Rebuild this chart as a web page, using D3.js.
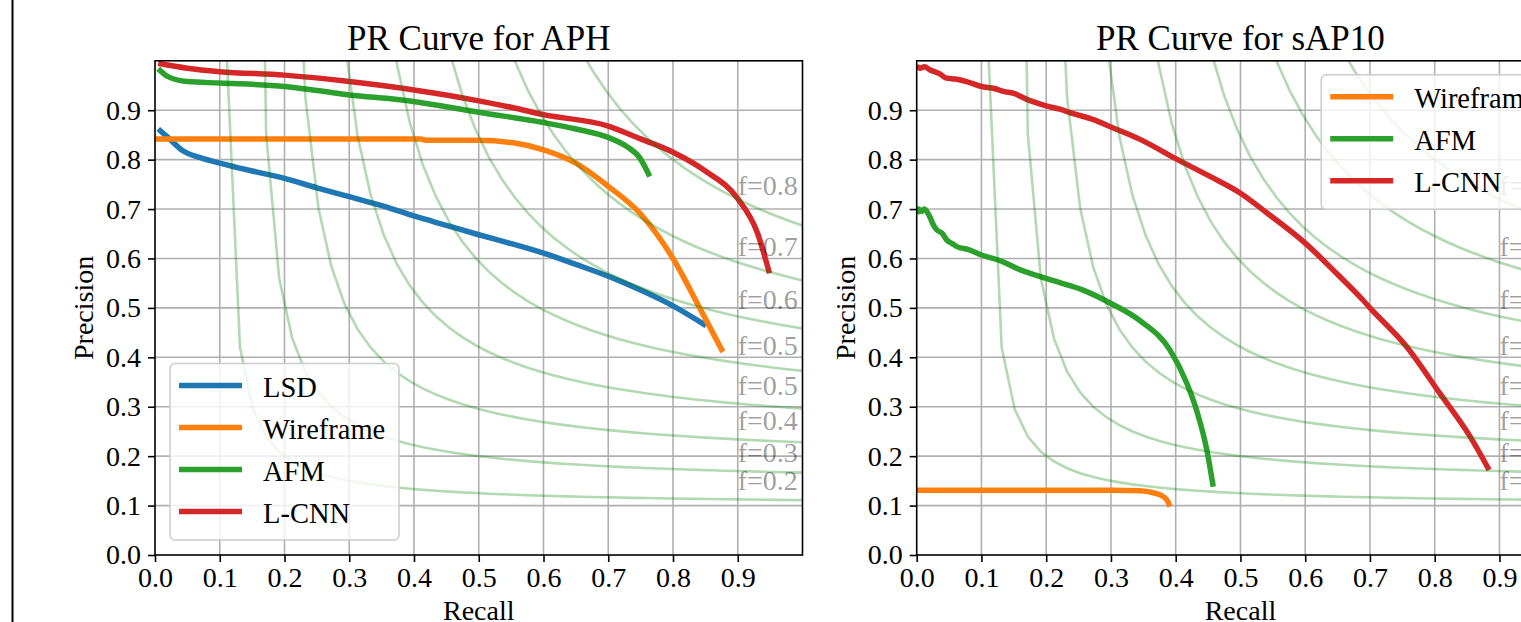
<!DOCTYPE html>
<html>
<head>
<meta charset="utf-8">
<script src="https://cdn.jsdelivr.net/npm/d3@7"></script>
<style>
  body { margin: 0; background: #fff; }
  text { font-family: "Liberation Serif", "DejaVu Serif", serif; }
</style>
</head>
<body>
<svg width="1521" height="622"></svg>
<script>
// ---- data ----
var xTicks = [0, 0.1, 0.2, 0.3, 0.4, 0.5, 0.6, 0.7, 0.8, 0.9];
var yTicks = [0, 0.1, 0.2, 0.3, 0.4, 0.5, 0.6, 0.7, 0.8, 0.9];

// iso-F reference curves
var fScores = [0.2, 0.2857, 0.3714, 0.4571, 0.5429, 0.6286, 0.7143, 0.8];
var fLabels = ["f=0.2", "f=0.3", "f=0.4", "f=0.5", "f=0.5", "f=0.6", "f=0.7", "f=0.8"];

// APH panel
var aphLSD = [[0.005,0.862],[0.02,0.845],[0.043,0.818],[0.07,0.804],[0.1,0.793],[0.15,0.777],[0.2,0.762],
  [0.25,0.743],[0.3,0.725],[0.3475,0.708],[0.4,0.686],[0.45,0.667],[0.5,0.648],[0.55,0.630],[0.6,0.611],
  [0.65,0.588],[0.7,0.564],[0.75,0.536],[0.8,0.504],[0.851,0.464]];
var aphWireframe = [[0.0,0.842],[0.1,0.842],[0.2,0.842],[0.3,0.842],[0.41,0.842],[0.42,0.839],[0.5,0.839],
  [0.553,0.834],[0.6,0.820],[0.65,0.793],[0.7,0.746],[0.75,0.690],[0.8,0.600],[0.842,0.498],[0.877,0.411]];
var aphAFM = [[0.005,0.984],[0.02,0.968],[0.05,0.958],[0.1,0.955],[0.2,0.948],[0.25,0.940],[0.3,0.931],
  [0.378,0.921],[0.45,0.907],[0.5,0.896],[0.6,0.875],[0.65,0.862],[0.7,0.845],[0.728,0.827],[0.749,0.803],[0.764,0.766]];
var aphLCNN = [[0.005,0.995],[0.05,0.985],[0.1,0.978],[0.2,0.971],[0.3,0.958],[0.4,0.941],[0.5,0.919],
  [0.553,0.905],[0.6,0.891],[0.7,0.868],[0.75,0.842],[0.8,0.815],[0.85,0.777],[0.9,0.721],[0.93,0.653],[0.949,0.570]];

// sAP10 panel
var sapWireframe = [[0.0,0.131],[0.1,0.131],[0.2,0.131],[0.3,0.131],[0.345,0.130],[0.365,0.126],
  [0.381,0.118],[0.388,0.108],[0.391,0.098]];
var sapAFM = [[0.0,0.690],[0.003,0.700],[0.008,0.695],[0.012,0.700],[0.02,0.685],[0.025,0.670],[0.031,0.658],
  [0.04,0.650],[0.046,0.638],[0.055,0.630],[0.062,0.624],[0.08,0.618],[0.1,0.607],[0.13,0.595],[0.16,0.577],
  [0.185,0.566],[0.211,0.555],[0.257,0.536],[0.3,0.509],[0.345,0.474],[0.391,0.415],[0.417,0.348],
  [0.432,0.294],[0.448,0.213],[0.458,0.138]];
var sapLCNN = [[0.0,0.990],[0.005,0.985],[0.012,0.988],[0.02,0.982],[0.035,0.974],[0.046,0.965],[0.06,0.963],
  [0.077,0.958],[0.1,0.948],[0.12,0.944],[0.134,0.938],[0.15,0.934],[0.17,0.922],[0.2,0.909],[0.221,0.902],
  [0.242,0.893],[0.273,0.881],[0.3,0.866],[0.345,0.841],[0.4,0.802],[0.453,0.766],[0.5,0.732],[0.541,0.692],
  [0.6,0.631],[0.649,0.569],[0.689,0.516],[0.7,0.500],[0.757,0.421],[0.808,0.327],[0.855,0.239],[0.884,0.172]];

var colors = { "LSD": "#1f77b4", "Wireframe": "#ff7f0e", "AFM": "#2ca02c", "L-CNN": "#d62728" };

var panels = [
  { title: "PR Curve for APH", left: 155, legend: "lower left",
    series: [["LSD", aphLSD], ["Wireframe", aphWireframe], ["AFM", aphAFM], ["L-CNN", aphLCNN]] },
  { title: "PR Curve for sAP10", left: 916.7, legend: "upper right",
    series: [["Wireframe", sapWireframe], ["AFM", sapAFM], ["L-CNN", sapLCNN]] }
];

var plotW = 647.5, plotTop = 60.8, plotBottom = 555;
var svg = d3.select("svg");

// frame line at the far left
svg.append("line").attr("x1", 12.5).attr("x2", 12.5).attr("y1", 0).attr("y2", 622)
  .attr("stroke", "#000").attr("stroke-width", 2);

// recall samples for iso-F curves (50 samples, 0.01..1)
var isoX = d3.range(50).map(function(i) { return 0.01 + i * 0.99 / 49; });

panels.forEach(function(p, pi) {
  var x = d3.scaleLinear().domain([0, 1]).range([p.left, p.left + plotW]);
  var y = d3.scaleLinear().domain([0, 1]).range([plotBottom, plotTop]);
  var g = svg.append("g");

  g.append("clipPath").attr("id", "clip" + pi).append("rect")
    .attr("x", x(0)).attr("y", y(1)).attr("width", plotW).attr("height", plotBottom - plotTop);

  // grid
  g.append("g").selectAll("line").data(xTicks.slice(1)).enter().append("line")
    .attr("x1", function(d) { return x(d); }).attr("x2", function(d) { return x(d); })
    .attr("y1", y(0)).attr("y2", y(1)).attr("stroke", "#b0b0b0").attr("stroke-width", 1.6);
  g.append("g").selectAll("line").data(yTicks.slice(1)).enter().append("line")
    .attr("y1", function(d) { return y(d); }).attr("y2", function(d) { return y(d); })
    .attr("x1", x(0)).attr("x2", x(1)).attr("stroke", "#b0b0b0").attr("stroke-width", 1.6);

  var line = d3.line().x(function(d) { return x(d[0]); }).y(function(d) { return y(d[1]); });
  var smooth = d3.line().curve(d3.curveMonotoneX)
    .x(function(d) { return x(d[0]); }).y(function(d) { return y(d[1]); });
  var plot = g.append("g").attr("clip-path", "url(#clip" + pi + ")");

  // PR curves
  p.series.forEach(function(s) {
    plot.append("path").datum(s[1]).attr("d", smooth)
      .attr("fill", "none").attr("stroke", colors[s[0]]).attr("stroke-width", 5.5)
      .attr("stroke-linejoin", "round");
  });

  // iso-F curves
  fScores.forEach(function(f, i) {
    var pts = isoX.map(function(r) { return [r, f * r / (2 * r - f)]; })
      .filter(function(d) { return d[1] >= 0; });
    plot.append("path").datum(pts).attr("d", line)
      .attr("fill", "none").attr("stroke", "green").attr("stroke-opacity", 0.3).attr("stroke-width", 2.6);
    var r45 = isoX[45];
    g.append("text").attr("x", x(0.9)).attr("y", y(f * r45 / (2 * r45 - f) + 0.02))
      .attr("font-size", 28).attr("fill", "#000").attr("fill-opacity", 0.4).text(fLabels[i]);
  });

  // axes
  var xa = g.append("g").attr("transform", "translate(0," + plotBottom + ")")
    .call(d3.axisBottom(x).tickValues(xTicks).tickSize(7).tickPadding(5).tickFormat(d3.format(".1f")));
  var ya = g.append("g").attr("transform", "translate(" + p.left + ",0)")
    .call(d3.axisLeft(y).tickValues(yTicks).tickSize(7).tickPadding(7).tickFormat(d3.format(".1f")));
  [xa, ya].forEach(function(a) {
    a.select(".domain").remove();
    a.selectAll(".tick line").attr("stroke", "#000").attr("stroke-width", 1.6);
    a.selectAll(".tick text").attr("font-size", 28).attr("font-family", "Liberation Serif").attr("fill", "#000");
  });

  // spines
  g.append("rect").attr("x", x(0)).attr("y", y(1)).attr("width", plotW).attr("height", plotBottom - plotTop)
    .attr("fill", "none").attr("stroke", "#000").attr("stroke-width", 1.6);

  // labels
  g.append("text").attr("x", p.left + plotW / 2).attr("y", 50).attr("text-anchor", "middle")
    .attr("font-size", 35).text(p.title);
  g.append("text").attr("x", p.left + plotW / 2).attr("y", 620).attr("text-anchor", "middle")
    .attr("font-size", 28).text("Recall");
  g.append("text").attr("transform", "translate(" + (p.left - 62) + "," + ((plotTop + plotBottom) / 2) + ") rotate(-90)")
    .attr("text-anchor", "middle").attr("font-size", 28).text("Precision");

  // legend
  var n = p.series.length, lw = 229, lh = 22 + (n - 1) * 42 + 28.5;
  var lx = p.legend === "lower left" ? x(0) + 15 : x(1) - 14 - lw;
  var ly = p.legend === "lower left" ? plotBottom - 15 - lh : plotTop + 14;
  var lg = g.append("g");
  lg.append("rect").attr("x", lx).attr("y", ly).attr("width", lw).attr("height", lh).attr("rx", 5)
    .attr("fill", "#fff").attr("fill-opacity", 0.8).attr("stroke", "#cccccc").attr("stroke-width", 1.5);
  var items = lg.selectAll("g.item").data(p.series).enter().append("g").attr("class", "item")
    .attr("transform", function(d, i) { return "translate(" + lx + "," + (ly + 22 + i * 42) + ")"; });
  items.append("line").attr("x1", 9).attr("x2", 72).attr("y1", 0).attr("y2", 0)
    .attr("stroke", function(d) { return colors[d[0]]; }).attr("stroke-width", 5.5);
  items.append("text").attr("x", 93).attr("y", 11).attr("font-size", 28.5).text(function(d) { return d[0]; });
});
</script>
</body>
</html>
